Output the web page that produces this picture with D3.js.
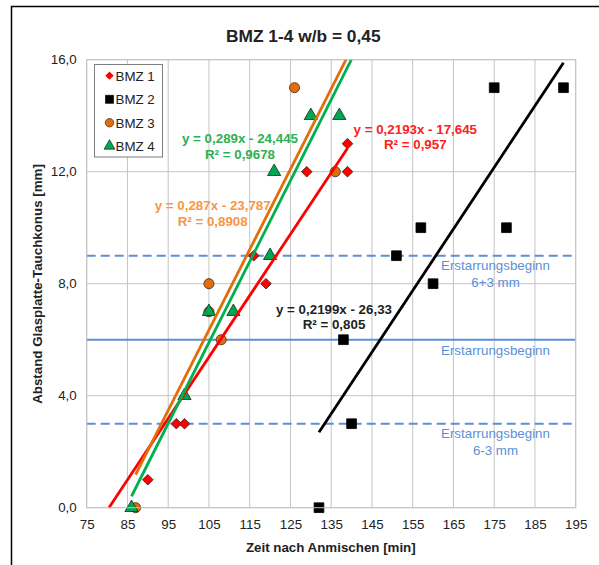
<!DOCTYPE html>
<html><head><meta charset="utf-8">
<script src="https://cdn.jsdelivr.net/npm/d3@7"></script>
<style>
html,body{margin:0;padding:0;background:#fff;}
svg{display:block;font-family:"Liberation Sans",Arial,sans-serif;}
</style></head>
<body>
<svg id="chart" width="599" height="565"></svg>
<script>
// ---------------- data ----------------
const title = "BMZ 1-4 w/b = 0,45";
const xTitle = "Zeit nach Anmischen [min]";
const yTitle = "Abstand Glasplatte-Tauchkonus [mm]";
const xTicks = [75, 85, 95, 105, 115, 125, 135, 145, 155, 165, 175, 185, 195];
const yTicks = [0, 4, 8, 12, 16];

const seriesNames = ["BMZ 1", "BMZ 2", "BMZ 3", "BMZ 4"];
const bmz1X = [90, 97, 99, 116, 119, 129, 139, 139];
const bmz1Y = [1, 3, 3, 9, 8, 12, 12, 13];
const bmz2X = [132, 138, 140, 151, 157, 160, 175, 178, 192];
const bmz2Y = [0, 6, 3, 9, 10, 8, 15, 10, 15];
const bmz3X = [87, 105, 105, 108, 126, 136];
const bmz3Y = [0, 8, 7, 6, 15, 12];
const bmz4X = [86, 99, 105, 111, 120, 121, 130, 137];
const bmz4Y = [0, 4, 7, 7, 9, 12, 14, 14];

// trendlines: slope, intercept, x-range
const trendSlope = [0.2193, 0.2199, 0.287, 0.289];
const trendIntercept = [-17.645, -26.33, -23.787, -24.445];
const trendXFrom = [75, 132, 87, 86];
const trendXTo = [139, 192, 195, 195];
const trendEq = ["y = 0,2193x - 17,645", "y = 0,2199x - 26,33", "y = 0,287x - 23,787", "y = 0,289x - 24,445"];
const trendR2 = ["R² = 0,957", "R² = 0,805", "R² = 0,8908", "R² = 0,9678"];

// reference lines
const refY = [9, 6, 3];
const refDashed = [true, false, true];
const refLabel = [["Erstarrungsbeginn", "6+3 mm"], ["Erstarrungsbeginn"], ["Erstarrungsbeginn", "6-3 mm"]];

// ---------------- layout / style ----------------
const plot = {left: 86.7, right: 575.7, top: 59.7, bottom: 507.7};
const markerFill = ["#FF0000", "#000000", "#E46C0A", "#00A651"];
const markerStroke = ["#3a1a1a", "#000000", "#3a2a1a", "#1a2a1a"];
const markerShape = [d3.symbolDiamond2, d3.symbolSquare, d3.symbolCircle, d3.symbolTriangle];
const markerSize = [72, 95, 80, 76];
const lineColor = ["#FF0000", "#000000", "#E46C0A", "#00B050"];
const labelColor = ["#FF2020", "#222222", "#F79646", "#2EB050"];
const labelPos = [[415.3, 133.6], [334, 313.6], [212.7, 210.3], [240, 143]]; // centre x, baseline y
const refColor = "#5B8FD6";
const refLabelPos = [[495.5, 270.3], [495.5, 354.6], [495.5, 438]];
const gridColor = "#C4C4C4";
const FS = 13.33;

const svg = d3.select("#chart");
const x = d3.scaleLinear().domain([75, 195]).range([plot.left, plot.right]);
const y = d3.scaleLinear().domain([0, 16]).range([plot.bottom, plot.top]);

// outer frame
svg.append("rect").attr("x", 11.5).attr("y", 6.5).attr("width", 700).attr("height", 700)
  .attr("fill", "#fff").attr("stroke", "#000").attr("stroke-width", 1.5);

// grid
const g = svg.append("g");
g.selectAll("line.vg").data(xTicks).join("line")
  .attr("x1", d => x(d)).attr("x2", d => x(d)).attr("y1", plot.top).attr("y2", plot.bottom)
  .attr("stroke", gridColor).attr("stroke-width", 1);
g.selectAll("line.hg").data(yTicks).join("line")
  .attr("x1", plot.left).attr("x2", plot.right).attr("y1", d => y(d)).attr("y2", d => y(d))
  .attr("stroke", gridColor).attr("stroke-width", 1);

// axes (labels only)
const xAxis = d3.axisBottom(x).tickValues(xTicks).tickSize(0).tickPadding(12).tickFormat(d3.format("d"));
svg.append("g").attr("transform", `translate(0,${plot.bottom})`).call(xAxis)
  .call(s => s.select(".domain").remove())
  .selectAll("text").attr("font-size", FS).attr("fill", "#222").attr("font-family", "Liberation Sans, Arial, sans-serif");
const yAxis = d3.axisLeft(y).tickValues(yTicks).tickSize(0).tickPadding(10)
  .tickFormat(d => d3.format(".1f")(d).replace(".", ","));
svg.append("g").attr("transform", `translate(${plot.left},0)`).call(yAxis)
  .call(s => s.select(".domain").remove())
  .selectAll("text").attr("font-size", FS).attr("fill", "#222").attr("font-family", "Liberation Sans, Arial, sans-serif");

// reference lines
refY.forEach((v, i) => {
  svg.append("line").attr("x1", plot.left).attr("x2", plot.right).attr("y1", y(v)).attr("y2", y(v))
    .attr("stroke", refColor).attr("stroke-width", 2)
    .attr("stroke-dasharray", refDashed[i] ? "9,5" : null);
  const t = svg.append("text").attr("x", refLabelPos[i][0]).attr("y", refLabelPos[i][1])
    .attr("text-anchor", "middle").attr("font-size", FS).attr("fill", refColor);
  refLabel[i].forEach((s, k) => t.append("tspan").attr("x", refLabelPos[i][0]).attr("dy", k === 0 ? 0 : 17).text(s));
});

// markers
const allX = [bmz1X, bmz2X, bmz3X, bmz4X];
const allY = [bmz1Y, bmz2Y, bmz3Y, bmz4Y];
allX.forEach((xs, si) => {
  const pts = xs.map((v, k) => [v, allY[si][k]]);
  svg.append("g").selectAll("path").data(pts).join("path")
    .attr("d", d3.symbol().type(markerShape[si]).size(markerSize[si]))
    .attr("transform", d => `translate(${x(d[0])},${y(d[1])})`)
    .attr("fill", markerFill[si]).attr("stroke", markerStroke[si]).attr("stroke-width", 0.8);
});

// trendlines
trendSlope.forEach((m, i) => {
  const b = trendIntercept[i];
  const x0 = Math.max(trendXFrom[i], (0 - b) / m);
  const x1 = Math.min(trendXTo[i], (16 - b) / m);
  svg.append("line").attr("x1", x(x0)).attr("y1", y(m * x0 + b)).attr("x2", x(x1)).attr("y2", y(m * x1 + b))
    .attr("stroke", lineColor[i]).attr("stroke-width", 2.8);
  const t = svg.append("text").attr("text-anchor", "middle").attr("font-size", FS).attr("font-weight", "bold")
    .attr("fill", labelColor[i]);
  t.append("tspan").attr("x", labelPos[i][0]).attr("y", labelPos[i][1]).text(trendEq[i]);
  t.append("tspan").attr("x", labelPos[i][0]).attr("y", labelPos[i][1] + 15.5).text(trendR2[i]);
});

// plot area border
svg.append("rect").attr("x", plot.left).attr("y", plot.top)
  .attr("width", plot.right - plot.left).attr("height", plot.bottom - plot.top)
  .attr("fill", "none").attr("stroke", gridColor).attr("stroke-width", 1);

// legend
const lg = svg.append("g");
lg.append("rect").attr("x", 94.5).attr("y", 64.5).attr("width", 68).attr("height", 92.5)
  .attr("fill", "#fff").attr("stroke", "#7f7f7f").attr("stroke-width", 1);
const legY = [75.7, 99.3, 122.7, 146];
const legSize = [44, 64, 56, 52];
seriesNames.forEach((n, i) => {
  lg.append("path").attr("d", d3.symbol().type(markerShape[i]).size(legSize[i]))
    .attr("transform", `translate(109.5,${legY[i]})`)
    .attr("fill", markerFill[i]).attr("stroke", i === 0 ? "none" : markerStroke[i]).attr("stroke-width", 0.7);
  lg.append("text").attr("x", 115.5).attr("y", legY[i] + 4.8).attr("font-size", FS).attr("fill", "#222").text(n);
});

// titles
svg.append("text").attr("x", 303.3).attr("y", 41.5).attr("text-anchor", "middle")
  .attr("font-size", 17.33).attr("font-weight", "bold").attr("fill", "#222").text(title);
svg.append("text").attr("x", 330.8).attr("y", 551.5).attr("text-anchor", "middle")
  .attr("font-size", FS).attr("font-weight", "bold").attr("fill", "#222").text(xTitle);
svg.append("text").attr("transform", "translate(42.2,284) rotate(-90)").attr("text-anchor", "middle")
  .attr("font-size", FS).attr("font-weight", "bold").attr("fill", "#222").text(yTitle);
</script>
</body></html>
